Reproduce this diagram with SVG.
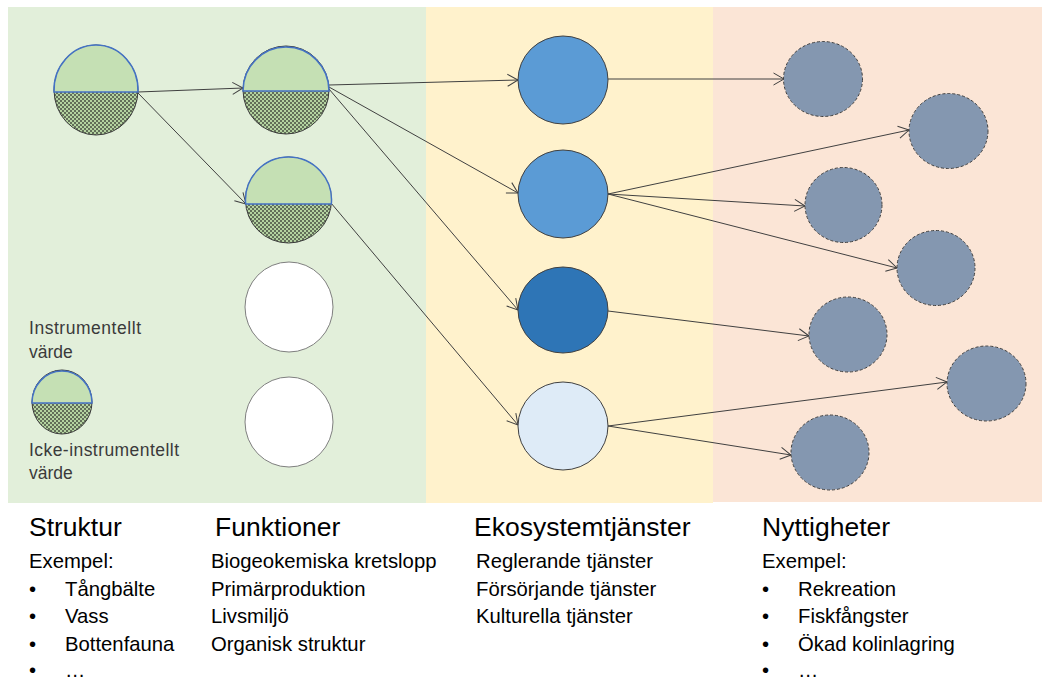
<svg xmlns="http://www.w3.org/2000/svg" width="1042" height="681" viewBox="0 0 1042 681">
<style>
.bg{stroke:none}
.dot{fill:url(#dots);stroke:#3a3a3a;stroke-width:1}
.top{fill:#C5E0B4;stroke:#4472C4;stroke-width:1.5}
.white{fill:#FFFFFF;stroke:#7f7f7f;stroke-width:1}
.eco{stroke:#404040;stroke-width:1}
.ben{fill:#8497B0;stroke:#404040;stroke-width:1;stroke-dasharray:3 2}
.conn line{stroke:#404040;stroke-width:1;fill:none;marker-end:url(#arr)}
.leg{font-family:"Liberation Sans",Arial,sans-serif;font-size:17.5px;fill:#3a3a3a}
.h{font-family:"Liberation Sans",Arial,sans-serif;font-size:26.5px;fill:#000}
.t{font-family:"Liberation Sans",Arial,sans-serif;font-size:20.3px;fill:#000}
</style>
<defs>
<pattern id="dots" width="4" height="4" patternUnits="userSpaceOnUse">
<rect width="4" height="4" fill="#B4D3A0"/>
<rect x="0.25" y="0.25" width="1.5" height="1.5" fill="#222222"/>
<rect x="2.25" y="2.25" width="1.5" height="1.5" fill="#222222"/>
</pattern>
<marker id="arr" viewBox="0 0 12 14" refX="11.5" refY="7" markerWidth="12" markerHeight="14" orient="auto" markerUnits="userSpaceOnUse">
<path d="M1,1 L11.5,7 L1,13" fill="none" stroke="#404040" stroke-width="1"/>
</marker>
</defs>
<rect width="1042" height="681" fill="#FFFFFF"/>
<g id="panels">
<rect class="bg" x="8" y="7" width="418" height="496" fill="#E2EFDA"/>
<rect class="bg" x="426" y="7" width="287" height="496" fill="#FFF2CC"/>
<rect class="bg" x="713" y="7" width="329" height="495" fill="#FBE5D6"/>
</g>
<g id="connectors" class="conn">
<line x1="138" y1="92" x2="243" y2="88"/>
<line x1="138" y1="93" x2="246" y2="204"/>
<line x1="329" y1="85" x2="518" y2="80"/>
<line x1="329" y1="87" x2="518" y2="193"/>
<line x1="329" y1="89" x2="518" y2="310"/>
<line x1="331" y1="203" x2="518" y2="425"/>
<line x1="608" y1="79" x2="784" y2="79"/>
<line x1="608" y1="194" x2="909" y2="130"/>
<line x1="608" y1="194" x2="805" y2="206"/>
<line x1="608" y1="194" x2="897" y2="268"/>
<line x1="608" y1="311" x2="809" y2="336"/>
<line x1="608" y1="426" x2="947" y2="382"/>
<line x1="608" y1="426" x2="791" y2="455"/>
</g>
<g id="struktur">
<ellipse class="dot" cx="96" cy="90" rx="42" ry="45"/>
<path class="top" d="M54.04,92 A42,45 0 1 1 137.96,92 Z"/>
</g>
<g id="funktion1">
<ellipse class="dot" cx="286" cy="90" rx="43" ry="44"/>
<path class="top" d="M243,91 A43,44 0 1 1 329,91 Z"/>
</g>
<g id="funktion2">
<ellipse class="dot" cx="288.5" cy="200" rx="43" ry="43"/>
<path class="top" d="M245.69,204 A43,43 0 1 1 331.31,204 Z"/>
</g>
<g id="funktion3"><ellipse class="white" cx="289" cy="307" rx="44" ry="45"/></g>
<g id="funktion4"><ellipse class="white" cx="289" cy="422" rx="44" ry="45"/></g>
<g id="eko1"><ellipse class="eco" cx="563" cy="80" rx="45" ry="44" fill="#5B9BD5"/></g>
<g id="eko2"><ellipse class="eco" cx="563" cy="194" rx="45" ry="44" fill="#5B9BD5"/></g>
<g id="eko3"><ellipse class="eco" cx="563" cy="310" rx="45" ry="43" fill="#2E75B6"/></g>
<g id="eko4"><ellipse class="eco" cx="563" cy="426" rx="45" ry="44" fill="#DEEBF7"/></g>
<g id="nytta1"><ellipse class="ben" cx="823" cy="79" rx="39.5" ry="37.5"/></g>
<g id="nytta2"><ellipse class="ben" cx="948.5" cy="131" rx="39.5" ry="37.5"/></g>
<g id="nytta3"><ellipse class="ben" cx="843.5" cy="205" rx="38.5" ry="37.5"/></g>
<g id="nytta4"><ellipse class="ben" cx="936" cy="268" rx="39" ry="37.5"/></g>
<g id="nytta5"><ellipse class="ben" cx="848" cy="334.5" rx="39" ry="37.5"/></g>
<g id="nytta6"><ellipse class="ben" cx="986.5" cy="383.5" rx="39.5" ry="37.5"/></g>
<g id="nytta7"><ellipse class="ben" cx="830" cy="452.5" rx="39" ry="37.5"/></g>
<g id="legend">
<text class="leg" x="29" y="334" textLength="112">Instrumentellt</text>
<text class="leg" x="29" y="358">värde</text>
<ellipse class="dot" cx="62" cy="402" rx="30" ry="32"/>
<path class="top" d="M32,403 A30,32 0 1 1 92,403 Z"/>
<text class="leg" x="29" y="456" textLength="150">Icke-instrumentellt</text>
<text class="leg" x="29" y="479">värde</text>
</g>
<g id="text-struktur">
<text class="h" x="29" y="536">Struktur</text>
<text class="t" x="29" y="568">Exempel:</text>
<text class="t" x="29" y="596">•</text><text class="t" x="65" y="596">Tångbälte</text>
<text class="t" x="29" y="623">•</text><text class="t" x="65" y="623">Vass</text>
<text class="t" x="29" y="651">•</text><text class="t" x="65" y="651">Bottenfauna</text>
<text class="t" x="29" y="677">•</text><text class="t" x="65" y="677">…</text>
</g>
<g id="text-funktioner">
<text class="h" x="215" y="536">Funktioner</text>
<text class="t" x="211" y="568">Biogeokemiska kretslopp</text>
<text class="t" x="211" y="596">Primärproduktion</text>
<text class="t" x="211" y="623">Livsmiljö</text>
<text class="t" x="211" y="651">Organisk struktur</text>
</g>
<g id="text-eko">
<text class="h" x="474" y="536">Ekosystemtjänster</text>
<text class="t" x="476" y="568">Reglerande tjänster</text>
<text class="t" x="476" y="596">Försörjande tjänster</text>
<text class="t" x="476" y="623">Kulturella tjänster</text>
</g>
<g id="text-nytta">
<text class="h" x="762" y="536">Nyttigheter</text>
<text class="t" x="762" y="568">Exempel:</text>
<text class="t" x="762" y="596">•</text><text class="t" x="798" y="596">Rekreation</text>
<text class="t" x="762" y="623">•</text><text class="t" x="798" y="623">Fiskfångster</text>
<text class="t" x="762" y="651">•</text><text class="t" x="798" y="651">Ökad kolinlagring</text>
<text class="t" x="762" y="677">•</text><text class="t" x="798" y="677">…</text>
</g>
</svg>
